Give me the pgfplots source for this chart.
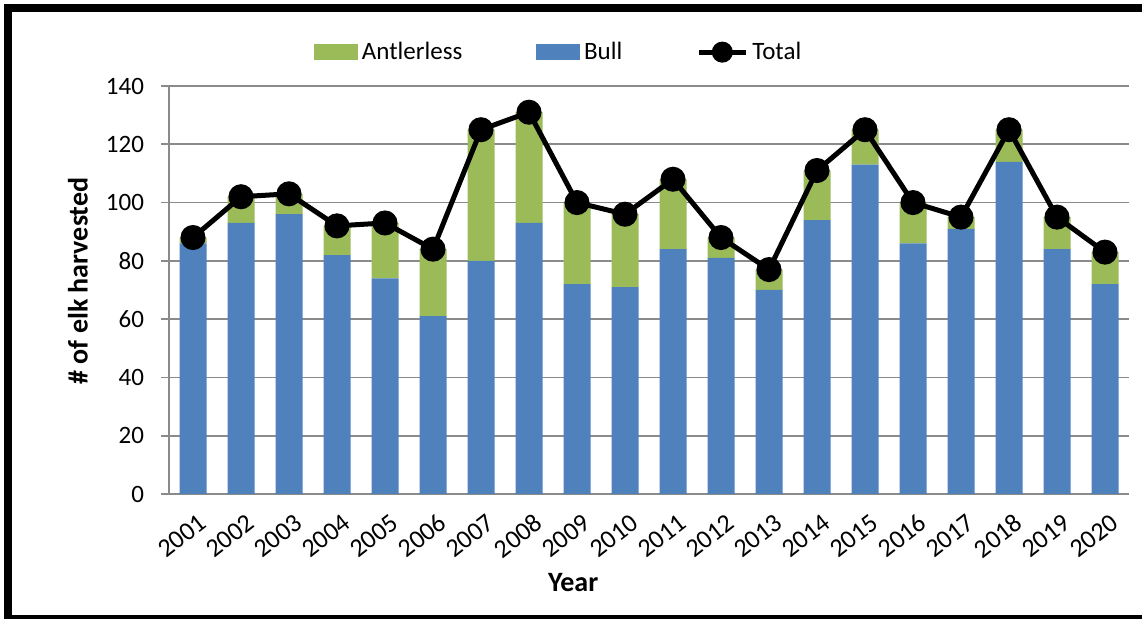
\documentclass[border=0pt]{standalone}
\usepackage{fontspec}
\setmainfont{Carlito}
\usepackage{pgfplots}
\usepackage{pgfplotstable}
\pgfplotsset{compat=1.18}
\definecolor{bull}{HTML}{4F81BD}
\definecolor{antl}{HTML}{9BBB59}
\definecolor{gridc}{HTML}{8A8A8A}
\newcommand\tickfont{\fontsize{12.5}{15}\selectfont}
\newcommand\xtickfont{\fontsize{13}{15}\selectfont}
\newcommand\labfont{\fontsize{14}{16}\selectfont\bfseries}
\pgfplotstableread{
yr bull antl total
0 86 2 88
1 93 9 102
2 96 7 103
3 82 10 92
4 74 19 93
5 61 23 84
6 80 45 125
7 93 38 131
8 72 28 100
9 71 25 96
10 84 24 108
11 81 7 88
12 70 7 77
13 94 17 111
14 113 12 125
15 86 14 100
16 91 4 95
17 114 11 125
18 84 11 95
19 72 11 83
}\data
\pgfplotsset{common/.style={
  at={(84.5pt,-247pt)}, anchor=south west,
  scale only axis, width=480pt, height=204pt,
  xmin=-0.5, xmax=19.5, ymin=0, ymax=140,
}}
\begin{document}
\begin{tikzpicture}
\useasboundingbox (0,0) rectangle (571pt,-309.5pt);
\draw[line width=4pt] (4pt,-309.5pt) -- (4pt,-4.25pt) -- (571pt,-4.25pt);
\fill (2pt,-309.5pt) rectangle (571pt,-307.75pt);
\begin{axis}[common,
  ybar stacked, bar width=13.5pt,
  axis lines*=left,
  axis line style={gridc, line width=0.8pt, -},
  ytick={0,20,...,140},
  xtick={0,...,19},
  xticklabels={2001,2002,2003,2004,2005,2006,2007,2008,2009,2010,2011,2012,2013,2014,2015,2016,2017,2018,2019,2020},
  xtick style={draw=none},
  ytick style={gridc, line width=0.8pt},
  tick align=outside, major tick length=4pt,
  ymajorgrids, grid style={gridc, line width=0.8pt},
  /pgf/number format/assume math mode=true,
  tick label style={font=\tickfont},
  y tick label style={xshift=-5pt},
  x tick label style={rotate=38, anchor=north east, font=\xtickfont, yshift=-2pt, xshift=2pt},
  xlabel={Year}, ylabel={\# of elk harvested},
  label style={font=\labfont},
  xlabel style={at={(0.421,-0.218)}, anchor=center},
  ylabel style={at={(-0.0948,0.522)}, anchor=center},
]
\addplot[fill=bull, draw=none] table[x=yr,y=bull]{\data};
\addplot[fill=antl, draw=none] table[x=yr,y=antl]{\data};
\end{axis}
\begin{axis}[common,
  axis lines=none, xtick=\empty, ytick=\empty,
  clip=false,
  legend style={at={(0.407,1.083)}, anchor=center, draw=none, fill=none,
    legend columns=3, font=\tickfont,
    /tikz/every even column/.append style={column sep=35pt}},
]
\addlegendimage{legend image code/.code={\fill[antl] (0pt,-3.75pt) rectangle (21.5pt,3.75pt);}}
\addlegendentry{Antlerless}
\addlegendimage{legend image code/.code={\fill[bull] (0pt,-3.75pt) rectangle (21.5pt,3.75pt);}}
\addlegendentry{Bull}
\addplot[black, line width=2.5pt, mark=*, mark size=5pt,
  legend image code/.code={\draw[black,line width=2.5pt] (0pt,0pt) -- (23.5pt,0pt); \fill[black] (11.75pt,0pt) circle (4pt);}]
  table[x=yr,y=total]{\data};
\addlegendentry{Total}
\end{axis}
\end{tikzpicture}
\end{document}
